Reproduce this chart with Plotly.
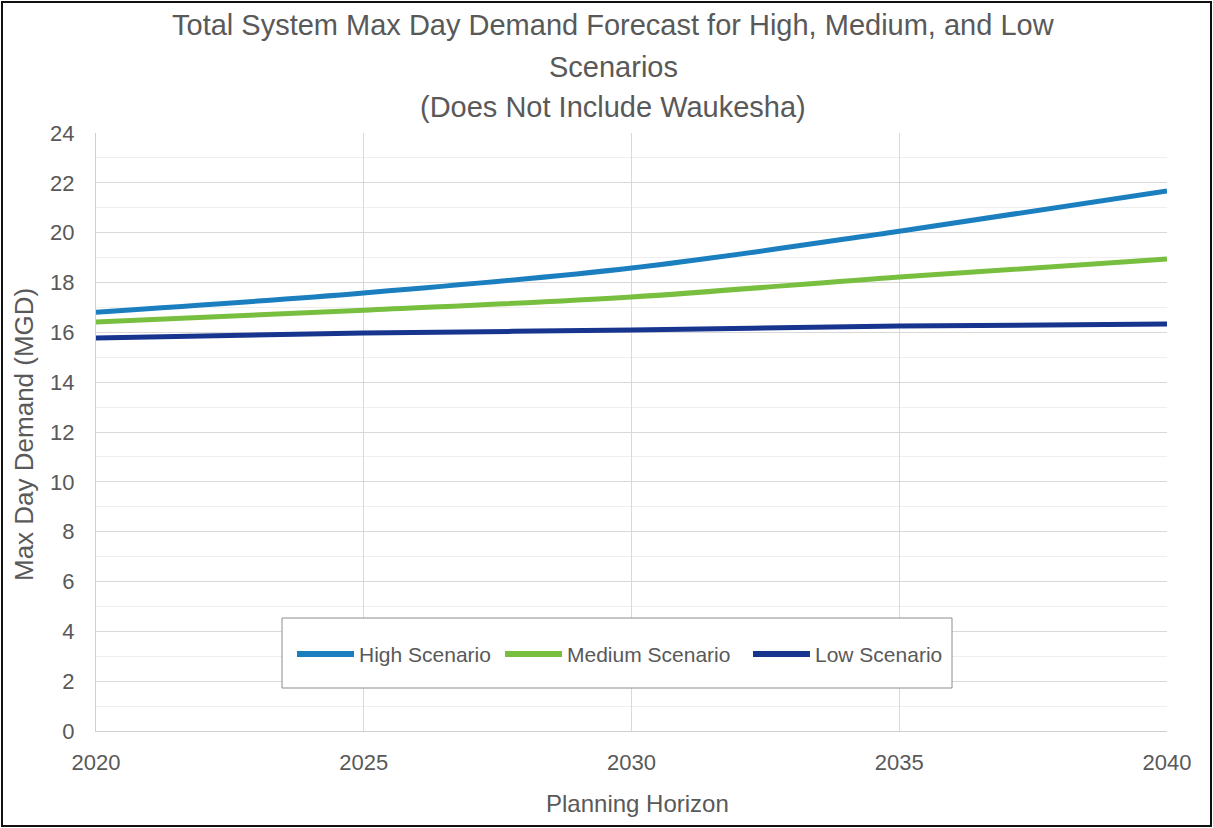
import plotly.graph_objects as go

years = [2020, 2025, 2030, 2035, 2040]
high = [16.81, 17.58, 18.58, 20.06, 21.67]
medium = [16.41, 16.89, 17.42, 18.22, 18.94]
low = [15.77, 15.97, 16.09, 16.25, 16.33]

series_names = ["High Scenario", "Medium Scenario", "Low Scenario"]
series_colors = ["#1b7fbf", "#79bf3f", "#17348f"]
title_lines = [
    "Total System Max Day Demand Forecast for High, Medium, and Low",
    "Scenarios",
    "(Does Not Include Waukesha)",
]
x_title = "Planning Horizon"
y_title = "Max Day Demand (MGD)"

FONT = "Liberation Sans, Arial"
GRAY = "#595959"

W, H = 1213, 828
ML, MR, MT, MB = 96, 46, 133, 97
PW, PH = W - ML - MR, H - MT - MB


def px_x(x):
    return (x - ML) / PW


def px_y(y):
    return (MT + PH - y) / PH


fig = go.Figure()
for name, vals, col in zip(series_names, [high, medium, low], series_colors):
    fig.add_trace(go.Scatter(
        x=years, y=vals, name=name, mode="lines", showlegend=False,
        line=dict(color=col, width=5, shape="spline"),
    ))

# outer frame around the whole chart
fig.add_shape(
    type="rect", xref="paper", yref="paper",
    x0=px_x(2), x1=px_x(W - 2), y0=px_y(H - 2), y1=px_y(2),
    line=dict(color="#111111", width=2), fillcolor="rgba(0,0,0,0)", layer="below",
)

# three-line chart title
for text, yc in zip(title_lines, [25, 67, 107]):
    fig.add_annotation(
        text=text, xref="paper", yref="paper", x=px_x(613), y=px_y(yc),
        xanchor="center", yanchor="middle", showarrow=False,
        font=dict(size=29, family=FONT, color=GRAY),
    )

# axis titles
fig.add_annotation(
    text=x_title, xref="paper", yref="paper", x=px_x(637), y=px_y(803),
    xanchor="center", yanchor="middle", showarrow=False,
    font=dict(size=24, family=FONT, color=GRAY),
)
fig.add_annotation(
    text=y_title, xref="paper", yref="paper", x=px_x(24), y=px_y(435),
    xanchor="center", yanchor="middle", showarrow=False, textangle=-90,
    font=dict(size=26, family=FONT, color=GRAY),
)

# legend box with line swatches
fig.add_shape(
    type="rect", xref="paper", yref="paper",
    x0=px_x(282), x1=px_x(952), y0=px_y(688), y1=px_y(618),
    line=dict(color="#8c8c8c", width=1), fillcolor="white", layer="above",
)
legend_line_x = [(297, 354), (505, 562), (753, 810)]
for name, col, (lx0, lx1) in zip(series_names, series_colors, legend_line_x):
    fig.add_shape(
        type="line", xref="paper", yref="paper",
        x0=px_x(lx0), x1=px_x(lx1), y0=px_y(654), y1=px_y(654),
        line=dict(color=col, width=6), layer="above",
    )
    fig.add_annotation(
        text=name, xref="paper", yref="paper", x=px_x(lx1 + 3), y=px_y(654),
        xanchor="left", yanchor="middle", showarrow=False,
        font=dict(size=21, family=FONT, color=GRAY),
    )

fig.update_layout(
    width=W, height=H,
    margin=dict(l=ML, r=MR, t=MT, b=MB),
    paper_bgcolor="white", plot_bgcolor="white",
    font=dict(family=FONT, color=GRAY),
    showlegend=False,
    xaxis=dict(
        range=[2020, 2040], tickmode="linear", tick0=2020, dtick=5,
        showgrid=True, gridcolor="#d9d9d9", gridwidth=1,
        showline=True, linecolor="#d0d0d0", mirror=False,
        zeroline=False, ticks="", ticklabelstandoff=12,
        tickfont=dict(size=22, color=GRAY),
    ),
    yaxis=dict(
        range=[0, 24], tickmode="linear", tick0=0, dtick=2,
        showgrid=True, gridcolor="#d9d9d9", gridwidth=1,
        minor=dict(dtick=1, showgrid=True, gridcolor="#efefef", gridwidth=1),
        showline=True, linecolor="#d0d0d0",
        zeroline=False, ticks="", ticklabelstandoff=16,
        tickfont=dict(size=22, color=GRAY),
    ),
)

fig.write_html("out.html")
